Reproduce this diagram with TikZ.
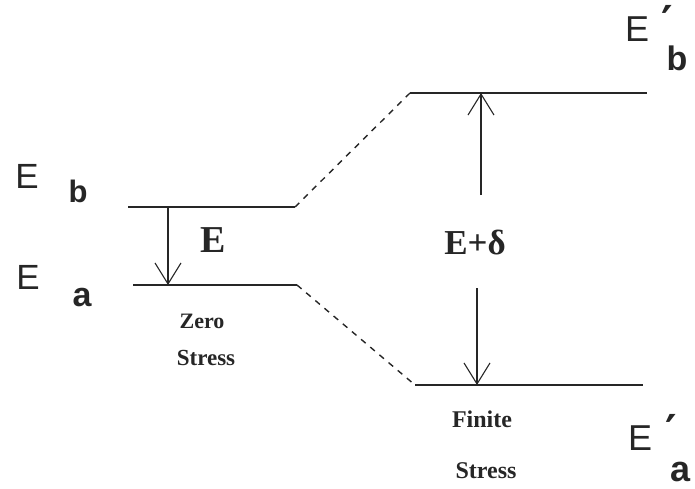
\documentclass[tikz,border=0pt]{standalone}
\usepackage{fontspec}
\setmainfont{Liberation Serif}
\newfontfamily\lsans{Liberation Sans}
\newfontfamily\dsans{DejaVu Sans}
\usetikzlibrary{arrows.meta}
\tikzset{
  level/.style={line width=1.4pt, draw=black!85},
  trans/.style={line width=1.4pt, draw=black!85, dash pattern=on 6pt off 6pt},
  energy/.style={line width=1.1pt, draw=black!85, -{Straight Barb[length=21pt,width=26pt,line width=1.1pt]}},
  lab/.style={inner sep=0pt, anchor=center, text=black!85},
}
\begin{document}
\begin{tikzpicture}[x=1pt,y=-1pt]
\useasboundingbox (0,0) rectangle (695,489);
% levels
\coordinate (b1) at (128,207); \coordinate (b2) at (295,207);
\coordinate (a1) at (133,285); \coordinate (a2) at (297,285);
\coordinate (bp1) at (410,93); \coordinate (bp2) at (647,93);
\coordinate (ap1) at (415,385); \coordinate (ap2) at (643,385);
\draw[level] (b1) -- (b2);
\draw[level] (a1) -- (a2);
\draw[level] (bp1) -- (bp2);
\draw[level] (ap1) -- (ap2);
\draw[trans] (b2) -- (bp1);
\draw[trans] (a2) -- (ap1);
% arrows
\coordinate (l1) at (168,207); \coordinate (l2) at (168,285);
\coordinate (r1) at (481,195); \coordinate (r2) at (481,93);
\coordinate (s1) at (477,288); \coordinate (s2) at (477,385);
\draw[energy] (l1) -- (l2);
\draw[energy] (r1) -- (r2);
\draw[energy] (s1) -- (s2);
% labels
\node[lab] (Eb) at (27,176) {\lsans\fontsize{35}{35}\selectfont E};
\node[lab] (Ebs) at (78,191) {\lsans\bfseries\fontsize{31}{31}\selectfont b};
\node[lab] (Ea) at (28,277) {\lsans\fontsize{35}{35}\selectfont E};
\node[lab] (Eas) at (82,298) {\lsans\bfseries\fontsize{34}{34}\selectfont a};
\node[lab] (E) at (213,240) {\bfseries\fontsize{38}{38}\selectfont E};
\node[lab] (Ed) at (475,243) {\bfseries\fontsize{35}{35}\selectfont E+δ};
\node[lab] (z1) at (202,321) {\bfseries\fontsize{22}{22}\selectfont Zero};
\node[lab] (z2) at (206,358) {\bfseries\fontsize{23}{23}\selectfont Stress};
\node[lab] (f1) at (482,419) {\bfseries\fontsize{24}{24}\selectfont Finite};
\node[lab] (f2) at (486,471) {\bfseries\fontsize{24}{24}\selectfont Stress};
\node[lab] (Ebp) at (637,29) {\lsans\fontsize{36}{36}\selectfont E};
\node[lab] (Ebpp) at (667,21) {\dsans\bfseries\fontsize{44}{44}\selectfont ′};
\node[lab] (Ebps) at (677,58) {\lsans\bfseries\fontsize{34}{34}\selectfont b};
\node[lab] (Eap) at (640,438) {\lsans\fontsize{36}{36}\selectfont E};
\node[lab] (Eapp) at (671,430) {\dsans\bfseries\fontsize{44}{44}\selectfont ′};
\node[lab] (Eaps) at (680,472) {\lsans\bfseries\fontsize{36}{36}\selectfont a};
\end{tikzpicture}
\end{document}
